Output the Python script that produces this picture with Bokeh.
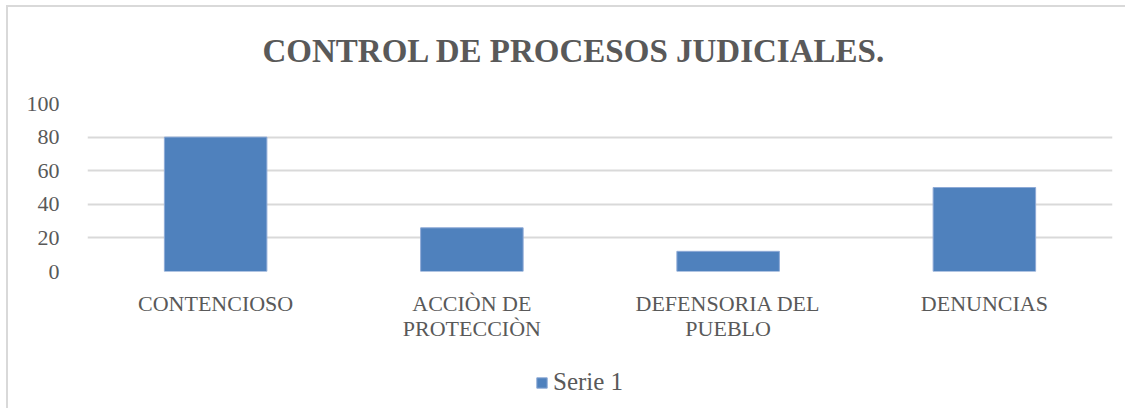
from bokeh.plotting import figure
from bokeh.layouts import column
from bokeh.models import ColumnDataSource, Range1d, FactorRange, Legend, LegendItem, FixedTicker, Label
from bokeh.embed import file_html
from bokeh.resources import INLINE

categories = ["CONTENCIOSO", "ACCIÒN DE\nPROTECCIÒN", "DEFENSORIA DEL\nPUEBLO", "DENUNCIAS"]
serie_1 = [80, 26, 12, 50]
y_ticks = [0, 20, 40, 60, 80, 100]
title_text = "CONTROL DE PROCESOS JUDICIALES."
series_name = "Serie 1"

FONT = "Liberation Serif"
GRAY = "#595959"
BAR = "#4f81bd"
EDGE = "#8eaad6"


def strip(height):
    f = figure(width=1117, height=height, x_range=Range1d(0, 1), y_range=Range1d(0, 1),
               output_backend="svg", toolbar_location=None, min_border=0,
               x_axis_type=None, y_axis_type=None)
    f.outline_line_color = None
    f.xgrid.grid_line_color = None
    f.ygrid.grid_line_color = None
    return f


# title strip
p0 = strip(60)
p0.add_layout(Label(x=175, y=17, x_units="screen", y_units="screen", text=title_text,
                    text_font=FONT, text_font_style="bold", text_font_size="33px",
                    text_color=GRAY, text_align="left", text_baseline="middle"))

# chart
src = ColumnDataSource(dict(cat=categories, val=serie_1))
p = figure(width=1117, height=280, x_range=FactorRange(*categories), y_range=Range1d(0, 100),
           output_backend="svg", toolbar_location=None,
           min_border_left=79, min_border_right=13, min_border_top=36, min_border_bottom=76)
p.outline_line_color = None
p.background_fill_color = "white"

r = p.vbar(x="cat", top="val", width=0.4, source=src, fill_color=BAR, line_color=EDGE, line_width=1)

p.xgrid.grid_line_color = None
p.ygrid.grid_line_color = "#d9d9d9"
p.ygrid.grid_line_width = 2
p.yaxis.ticker = FixedTicker(ticks=y_ticks)

for ax in (p.xaxis, p.yaxis):
    ax.axis_line_color = None
    ax.major_tick_line_color = None
    ax.minor_tick_line_color = None
    ax.major_label_text_font = FONT
    ax.major_label_text_color = GRAY
    ax.major_label_text_font_size = "22px"
p.yaxis.major_label_standoff = 22
p.xaxis.major_label_standoff = 13
p.xaxis.major_label_text_line_height = 1.0

# legend strip (frames of the strips are aligned with the chart's frame)
p2 = strip(61)
r2 = p2.vbar(x=[0.5], top=[1], width=0.4, fill_color=BAR, line_color=EDGE, line_width=1)
r2.visible = False
legend = Legend(items=[LegendItem(label=series_name, renderers=[r2])], location=(448, 12),
                orientation="horizontal", border_line_color=None, background_fill_alpha=0,
                padding=0, margin=0, glyph_width=13, glyph_height=13, label_standoff=5,
                inactive_fill_alpha=0,
                label_text_font=FONT, label_text_font_size="25px", label_text_color=GRAY)
p2.add_layout(legend, "center")

layout = column(p0, p, p2, spacing=0)
layout.styles = {"border-left": "2px solid #d9d9d9", "border-top": "2px solid #d9d9d9",
                 "margin-left": "6px", "margin-top": "5px"}

open("out.html", "w").write(file_html(layout, INLINE))
